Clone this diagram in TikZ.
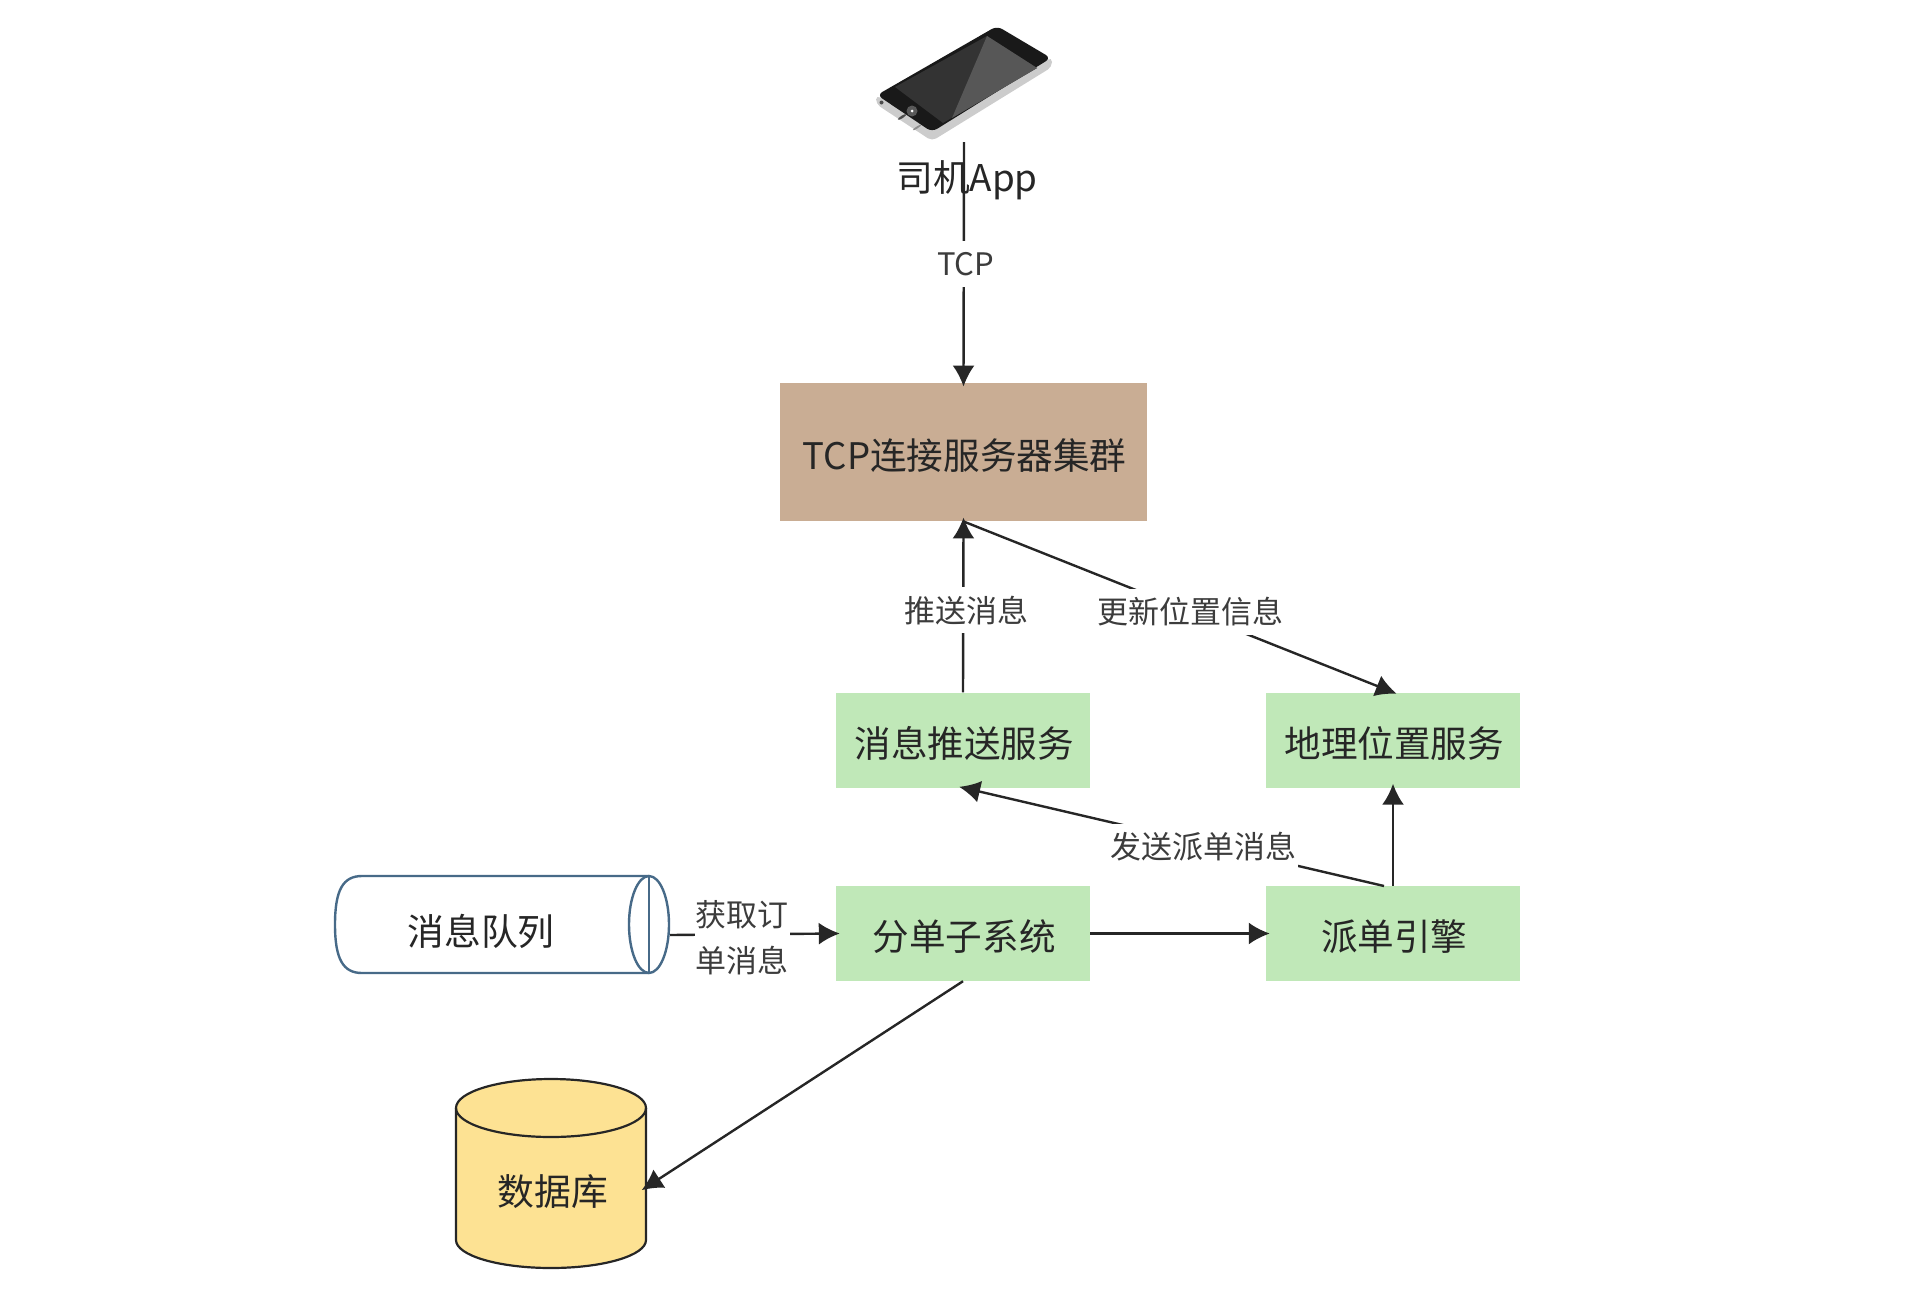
\documentclass[tikz,border=0pt]{standalone}
\usepackage{fontspec}
\setmainfont{Noto Sans CJK SC}
\usetikzlibrary{arrows.meta}
\definecolor{boxgreen}{HTML}{C0E8B8}
\definecolor{boxtan}{HTML}{C9AD94}
\definecolor{dbyellow}{HTML}{FDE293}
\definecolor{qblue}{HTML}{476A88}
\definecolor{ink}{HTML}{262626}
\newcommand{\lowered}[1]{\rule{0pt}{38pt}\hspace*{2.5pt}#1}
\tikzset{
  x=1pt,y=-1pt,
  box/.style={fill=boxgreen,minimum width=254pt,minimum height=95pt,inner sep=0pt,text=ink,font=\fontsize{36.6}{40}\selectfont},
  link/.style={draw=ink,line width=2.4pt,shorten >=-4pt,-{Latex[length=21pt,width=22pt]}},
  lab/.style={fill=white,inner xsep=1pt,inner ysep=0pt,minimum height=46pt,text=ink!90,font=\fontsize{31}{46}\selectfont,align=center},
  ghost/.style={inner sep=0pt,text=ink,font=\fontsize{36.8}{40}\selectfont},
  qline/.style={draw=qblue,line width=2.4pt}
}
\begin{document}
\begin{tikzpicture}
\useasboundingbox (0,0) rectangle (1920,1296);
% phone
\fill[black!20,rounded corners=5pt] (876,95) -- (876,104) -- (932,141) -- (1052,67) -- (1052,57) -- (932,125) -- cycle;
\fill[black!90,rounded corners=6pt] (877,95) -- (997,26) -- (1051,58) -- (932,132) -- cycle;
\fill[black!80] (895,87) -- (987,36) -- (1037,68) -- (943,123) -- cycle;
\fill[black!66] (987,36) -- (1037,68) -- (952,118) -- cycle;
\fill[black!65] (912,111) circle (5.5pt);
\fill[white] (912,111) circle (1.5pt);
\fill[black!70] (881.5,102.5) circle (2pt);
\fill[black!70,rotate around={33:(902,117)}] (902,117) ellipse (5pt and 1.3pt);
\fill[black!45,rotate around={33:(917,127.5)}] (917,127.5) ellipse (5pt and 1pt);
\node[minimum width=180pt,minimum height=116pt,inner sep=0pt] (phone) at (964,84) {};
\node[ghost] (applabel) at (967,180) {司机App};
% boxes
\node[fill=boxtan,minimum width=367pt,minimum height=138.5pt,inner sep=0pt,text=ink,font=\fontsize{36.6}{40}\selectfont] (tcp) at (963.5,452) {\lowered{TCP连接服务器集群}};
\node[box] (push) at (963,740) {\lowered{消息推送服务}};
\node[box] (geo) at (1393,740) {\lowered{地理位置服务}};
\node[box] (split) at (963,933.5) {\lowered{分单子系统}};
\node[box] (engine) at (1393,933.5) {\lowered{派单引擎}};
% queue
\draw[qline,fill=white] (649,876) -- (362,876) .. controls (343,876) and (335,890) .. (335,924.5) .. controls (335,959) and (343,973) .. (362,973) -- (649,973);
\draw[qline] (649,924.5) ellipse [x radius=20,y radius=48.5];
\draw[qline] (649,876) -- (649,973);
\node[ghost] (queue) at (481,931) {消息队列};
\coordinate (qport) at (670,935);
% database
\draw[ink,line width=2.2pt,fill=dbyellow] (456,1108) -- (456,1240) arc[start angle=180,end angle=360,x radius=95,y radius=-28] -- (646,1108) arc[start angle=0,end angle=180,x radius=95,y radius=-29] -- cycle;
\draw[ink,line width=2.2pt] (456,1108) arc[start angle=180,end angle=360,x radius=95,y radius=-29];
\node[ghost] (db) at (553,1192) {数据库};
\coordinate (dbport) at (645,1188);
% connectors
\draw[link] (phone.south) -- node[lab,pos=0.5,xshift=2pt,yshift=-2pt,font=\fontsize{31}{34}\selectfont] {TCP} (tcp.north);
\draw[link] (push.north) -- node[lab,pos=0.48,xshift=3pt] {推送消息} (tcp.south);
\draw[link] (tcp.south) -- node[lab,pos=0.53,xshift=-1pt] {更新位置信息} (geo.north);
\draw[link] (engine.north) -- (geo.south);
\coordinate (engleft) at (1384,886);
\draw[link] (engleft) -- node[lab,pos=0.43,xshift=1pt,yshift=-3pt] {发送派单消息} (push.south);
\draw[link] (split.east) -- (engine.west);
\draw[link] (qport) -- node[lab,pos=0.43,xshift=1pt,yshift=-3.5pt] {获取订\\单消息} (split.west);
\draw[link] (split.south) -- (dbport);
\end{tikzpicture}
\end{document}
